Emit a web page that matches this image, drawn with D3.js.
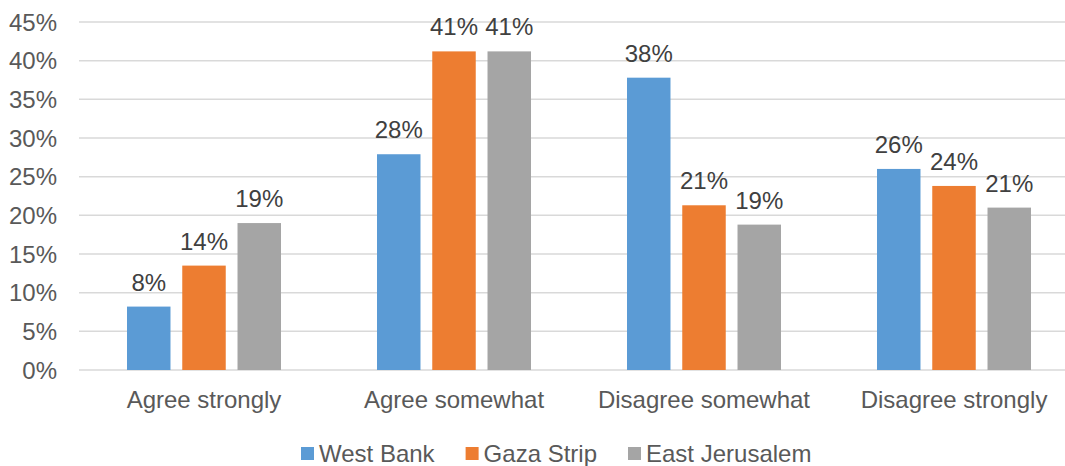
<!DOCTYPE html>
<html>
<head>
<meta charset="utf-8">
<script src="https://cdn.jsdelivr.net/npm/d3@7"></script>
<style>
  body { margin: 0; background: #fff; }
  text { font-family: "Liberation Sans", Arial, sans-serif; font-size: 24px; }
</style>
</head>
<body>
<div id="chart"></div>
<script>
// data
var categories = ["Agree strongly", "Agree somewhat", "Disagree somewhat", "Disagree strongly"];
var seriesNames = ["West Bank", "Gaza Strip", "East Jerusalem"];
var westBank = [0.082, 0.279, 0.378, 0.260];
var gazaStrip = [0.135, 0.412, 0.213, 0.238];
var eastJerusalem = [0.190, 0.412, 0.188, 0.210];
var yTicks = [0, 0.05, 0.10, 0.15, 0.20, 0.25, 0.30, 0.35, 0.40, 0.45];
var colors = ["#5B9BD5", "#ED7D31", "#A5A5A5"];

var seriesValues = [westBank, gazaStrip, eastJerusalem];

var w = 1065, h = 466;

var svg = d3.select("#chart")
  .append("svg")
  .attr("width", w)
  .attr("height", h);

var y = d3.scaleLinear().domain([0, 0.45]).range([370, 22]);
var x0 = d3.scaleBand().domain(categories).range([79, 1079]);
var x1 = d3.scaleBand().domain(seriesNames)
  .range([x0.bandwidth() * 0.192, x0.bandwidth() * 0.808])
  .paddingInner(0.213);

var pct = d3.format(".0%");

// gridlines
svg.append("g")
  .selectAll("line")
  .data(yTicks)
  .enter()
  .append("line")
  .attr("x1", 79)
  .attr("x2", 1079)
  .attr("y1", function(d) { return y(d); })
  .attr("y2", function(d) { return y(d); })
  .attr("stroke", "#d9d9d9")
  .attr("stroke-width", 1.5);

// y tick labels
svg.append("g")
  .selectAll("text")
  .data(yTicks)
  .enter()
  .append("text")
  .attr("x", 57)
  .attr("y", function(d) { return y(d) + 8.5; })
  .attr("text-anchor", "end")
  .attr("fill", "#595959")
  .text(function(d) { return pct(d); });

// bars
var rows = [];
categories.forEach(function(c, i) {
  seriesNames.forEach(function(s, j) {
    rows.push({cat: c, series: s, value: seriesValues[j][i], color: colors[j]});
  });
});

svg.append("g")
  .selectAll("rect")
  .data(rows)
  .enter()
  .append("rect")
  .attr("x", function(d) { return x0(d.cat) + x1(d.series); })
  .attr("y", function(d) { return y(d.value); })
  .attr("width", x1.bandwidth())
  .attr("height", function(d) { return y(0) - y(d.value); })
  .attr("fill", function(d) { return d.color; });

// data labels
svg.append("g")
  .selectAll("text")
  .data(rows)
  .enter()
  .append("text")
  .attr("x", function(d) { return x0(d.cat) + x1(d.series) + x1.bandwidth() / 2; })
  .attr("y", function(d) { return y(d.value) - 16; })
  .attr("text-anchor", "middle")
  .attr("fill", "#404040")
  .text(function(d) { return pct(d.value); });

// category labels
svg.append("g")
  .selectAll("text")
  .data(categories)
  .enter()
  .append("text")
  .attr("x", function(d) { return x0(d) + x0.bandwidth() / 2; })
  .attr("y", 408)
  .attr("text-anchor", "middle")
  .attr("fill", "#595959")
  .text(function(d) { return d; });

// legend
var legend = svg.append("g").attr("class", "legend");
var lx = 301;
seriesNames.forEach(function(s, i) {
  legend.append("rect")
    .attr("x", lx)
    .attr("y", 447)
    .attr("width", 13)
    .attr("height", 13)
    .attr("fill", colors[i]);
  var t = legend.append("text")
    .attr("x", lx + 18)
    .attr("y", 462)
    .attr("fill", "#595959")
    .text(s);
  lx = lx + 18 + t.node().getComputedTextLength() + 31;
});
</script>
</body>
</html>
